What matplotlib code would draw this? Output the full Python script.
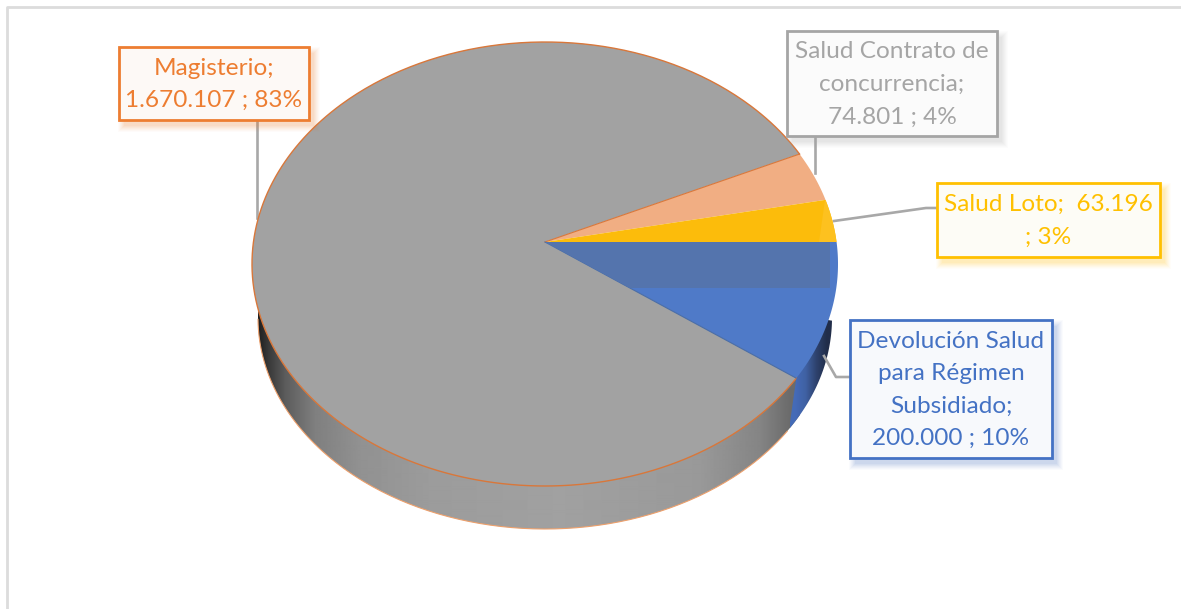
import numpy as np
import matplotlib
matplotlib.use('Agg')
from matplotlib import pyplot as plt
from matplotlib.patches import Polygon, Rectangle

plt.rcParams['font.family'] = ['Lato', 'DejaVu Sans']

names = ['Devolución Salud\npara Régimen\nSubsidiado;\n200.000 ; 10%',
         'Salud Loto;  63.196\n; 3%',
         'Salud Contrato de\nconcurrencia;\n74.801 ; 4%',
         'Magisterio;\n1.670.107 ; 83%']
values = [200000, 63196, 74801, 1670107]
top_colors = ['#4f7ac8', '#fcbc0b', '#f1ae83', '#a2a2a2']
edge_colors = ['#4472c4', '#ffc000', '#a5a5a5', '#ed7d31']
box_fills = ['#f7f9fc', '#fdfcf6', '#fbfbfb', '#fdf9f6']

# label boxes: left, top, right, bottom in picture pixels
boxes = [(850, 320, 1052, 458), (937, 183, 1160, 257), (787, 31, 997, 136), (119, 47, 309, 120)]
leaders = [[(824, 356), (836, 377), (850, 377)],
           [(834, 221), (926, 208), (937, 208)],
           [(815, 136), (815, 173)],
           [(257, 120), (257, 218)]]

W, H = 1181, 609
fig = plt.figure(figsize=(W / 100, H / 100), dpi=100)
ax = fig.add_axes([0, 0, 1, 1])
ax.set_xlim(0, W)
ax.set_ylim(H, 0)
ax.axis('off')

# chart frame
ax.plot([7, 7, W], [H, 7, 7], color='#dcdcdc', lw=2, zorder=1)

# pie geometry, top face and the smaller bottom face (perspective)
cx, cy, rx, ry = 545, 264, 293, 222
low_cy, low_rx, low_ry = 318, 287, 211
apex = (545, 242)
squash = 0.75


def rim(theta):
    # where the ray from the apex meets the top ellipse
    dx, dy = np.cos(theta), squash * np.sin(theta)
    ox, oy = apex[0] - cx, apex[1] - cy
    a = (dx / rx) ** 2 + (dy / ry) ** 2
    b = 2 * (ox * dx / rx ** 2 + oy * dy / ry ** 2)
    c = (ox / rx) ** 2 + (oy / ry) ** 2 - 1
    t = (-b + np.sqrt(b * b - 4 * a * c)) / (2 * a)
    return apex[0] + t * dx, apex[1] + t * dy


fracs = np.array(values) / sum(values)
order = [0, 3, 2, 1]  # blue, gray, peach, yellow going clockwise
angle = 0.0
spans = {}
for i in order:
    spans[i] = (angle, angle + fracs[i] * 2 * np.pi)
    angle += fracs[i] * 2 * np.pi

# side wall, gray part
t = np.linspace(0, 2 * np.pi, 500)
low_x = cx + low_rx * np.cos(t)
low_y = low_cy + low_ry * np.sin(t)
wall = Polygon(np.column_stack([low_x, low_y]), closed=True, fc='none', ec='none')
ax.add_patch(wall)

stop_x = [258, 268, 285, 315, 360, 430, 560, 700, 760, 790]
stop_v = [0.12, 0.22, 0.36, 0.50, 0.57, 0.61, 0.63, 0.60, 0.52, 0.42]
cols = np.arange(258, 800)
gray_img = np.interp(cols, stop_x, stop_v).reshape(1, -1)
im = ax.imshow(gray_img, extent=[258, 800, 540, 250], cmap='gray', vmin=0, vmax=1,
               aspect='auto', interpolation='bilinear', zorder=2)
im.set_clip_path(wall)

# side wall, blue part; the last point sits under the top face
bx, by = rim(spans[0][1])
corner_x = 789
mask = (np.cos(t) > (corner_x - cx) / low_rx) & (np.sin(t) > 0)
blue_wall = Polygon(np.column_stack([np.concatenate([low_x[mask], [bx, 815]]),
                                     np.concatenate([low_y[mask], [by, low_cy]])]),
                    closed=True, fc='none', ec='none')
ax.add_patch(blue_wall)
blue_img = np.array([[[0.27, 0.42, 0.72], [0.25, 0.38, 0.64], [0.18, 0.26, 0.43], [0.13, 0.18, 0.29]]])
im2 = ax.imshow(blue_img, extent=[790, 832, 430, 300], aspect='auto', interpolation='bilinear', zorder=3)
im2.set_clip_path(blue_wall)

# orange outline of the wall bottom
vis = (np.sin(t) > 0) & (low_x < corner_x)
ax.plot(low_x[vis][np.argsort(low_x[vis])], low_y[vis][np.argsort(low_x[vis])],
        color='#eda06c', lw=0.8, zorder=4)

# top slices
for i in order:
    a0, a1 = spans[i]
    pts = [rim(v) for v in np.linspace(a0, a1, 200)]
    ax.add_patch(Polygon([apex] + pts, closed=True, fc=top_colors[i], zorder=5, ec='none'))

# edge lines of the gray slice
gray_rim = np.array([rim(v) for v in np.linspace(*spans[3], 400)])
ax.plot(gray_rim[:, 0], gray_rim[:, 1], color='#d9773a', lw=1, zorder=5.5)
ax.plot([apex[0], gray_rim[-1, 0]], [apex[1], gray_rim[-1, 1]], color='#d9773a', lw=0.8, zorder=5.5)
ax.plot([apex[0], gray_rim[0, 0]], [apex[1], gray_rim[0, 1]], color='#4a6ea8', lw=0.8, zorder=5.5)

# darker band and lighter right facets, clipped to their slices
blue_clip = Polygon([apex] + [rim(v) for v in np.linspace(*spans[0], 200)], closed=True, fc='none', ec='none')
ax.add_patch(blue_clip)
band = Rectangle((545, 242), 285, 46, fc='#5474ad', ec='none', zorder=6)
ax.add_patch(band)
band.set_clip_path(blue_clip)
yellow_clip = Polygon([apex] + [rim(v) for v in np.linspace(*spans[1], 60)], closed=True, fc='none', ec='none')
ax.add_patch(yellow_clip)
facet = Polygon([(825, 200), (840, 200), (840, 242), (819, 242)], closed=True, fc='#fdc11f', ec='none', zorder=6)
ax.add_patch(facet)
facet.set_clip_path(yellow_clip)

# leader lines
for line in leaders:
    xs, ys = zip(*line)
    ax.plot(xs, ys, color='#a8a8a8', lw=1.9, zorder=4.5)

# label boxes
for i in range(4):
    left, top, right, bottom = boxes[i]
    for grow, alpha in zip([6, 5, 4, 3, 2, 1, 0], [0.025, 0.03, 0.04, 0.04, 0.05, 0.05, 0.06]):
        ax.add_patch(Rectangle((left + 5 - grow, top + 6 - grow), right - left + 2 * grow,
                               bottom - top + 2 * grow, fc=edge_colors[i], ec='none', alpha=alpha, zorder=7))
    ax.add_patch(Rectangle((left, top), right - left, bottom - top, fc=box_fills[i],
                           ec=edge_colors[i], lw=2, zorder=8))
    ax.text((left + right) / 2, (top + bottom) / 2 + 1, names[i], color=edge_colors[i], fontsize=17.6,
            ha='center', va='center', linespacing=1.68, zorder=9)

plt.savefig('out.png', dpi=100)
